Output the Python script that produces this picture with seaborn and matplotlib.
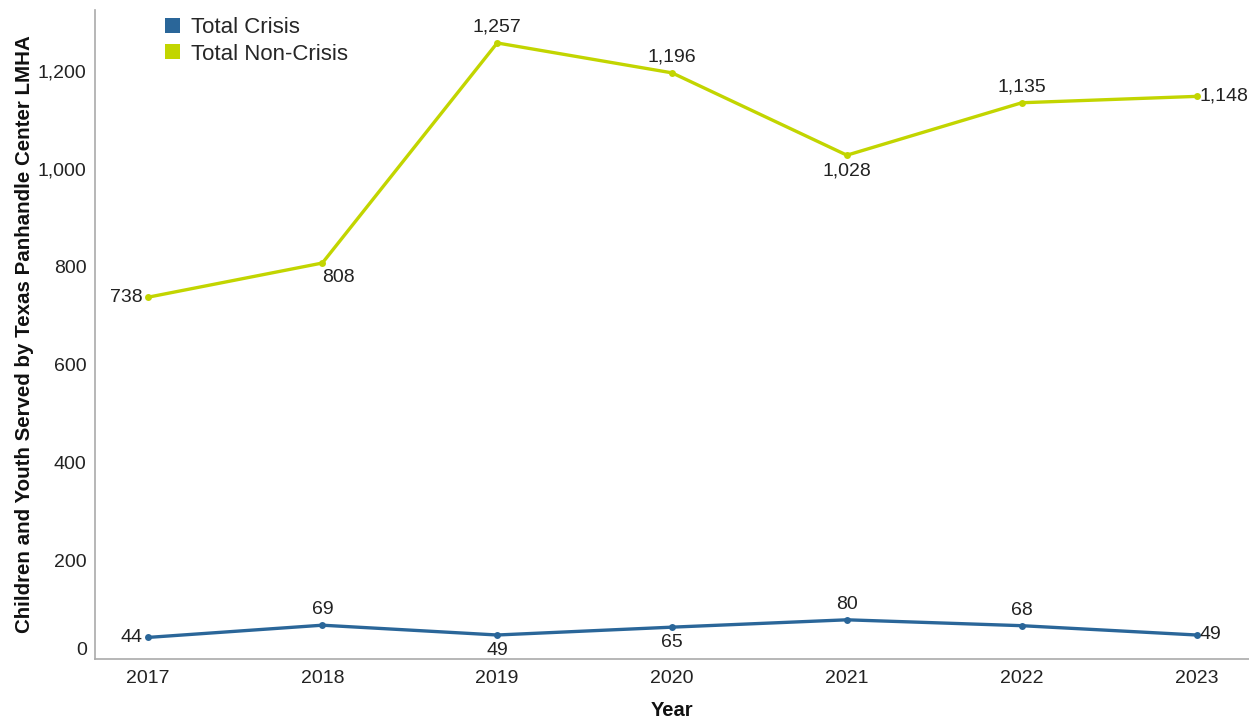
import matplotlib
matplotlib.use("Agg")
import matplotlib.pyplot as plt
from matplotlib.patches import Patch
from matplotlib.transforms import ScaledTranslation
import seaborn as sns
import pandas as pd

years = [2017, 2018, 2019, 2020, 2021, 2022, 2023]
total_crisis = [44, 69, 49, 65, 80, 68, 49]
total_non_crisis = [738, 808, 1257, 1196, 1028, 1135, 1148]
series_names = ["Total Crisis", "Total Non-Crisis"]
y_ticks = [0, 200, 400, 600, 800, 1000, 1200]

# where each value label sits relative to its point
crisis_pos = ["left", "above", "below", "below", "above", "above", "right"]
non_crisis_pos = ["left", "below-right", "above", "above", "below", "above", "right"]

colors = {"Total Crisis": "#2A6699", "Total Non-Crisis": "#C2D500"}

df = pd.DataFrame({
    "Year": years * 2,
    "Value": total_crisis + total_non_crisis,
    "Series": [series_names[0]] * len(years) + [series_names[1]] * len(years),
})

sns.set_theme(style="white")
plt.rcParams["font.family"] = ["Liberation Sans", "DejaVu Sans"]

fig = plt.figure(figsize=(12.49, 7.23), dpi=100)
ax = fig.add_axes([0.0761, 0.0885, 0.9239, 0.8975])

sns.lineplot(data=df, x="Year", y="Value", hue="Series", palette=colors,
             marker="o", markersize=5, markeredgewidth=0, linewidth=2.4,
             ax=ax, legend=False)

ax.set_xlim(2016.7, 2023.3)
ax.set_ylim(0, 1324)
ax.set_xticks(years)
ax.set_xticklabels([str(y) for y in years])
ax.set_yticks(y_ticks)
ax.set_yticklabels([f"{v:,}" for v in y_ticks])
ax.tick_params(axis="both", labelsize=14, colors="#222222", length=0)
ax.tick_params(axis="y", pad=6)
ax.tick_params(axis="x", pad=8)

for side in ["top", "right"]:
    ax.spines[side].set_visible(False)
for side in ["left", "bottom"]:
    ax.spines[side].set_color("#aaaaaa")
    ax.spines[side].set_linewidth(1.2)

ax.set_xlabel("Year", fontsize=14.5, fontweight="bold", labelpad=10, color="#111111")
ax.set_ylabel("Children and Youth Served by Texas Panhandle Center LMHA",
              fontsize=14.8, fontweight="bold", color="#111111")
ax.yaxis.set_label_coords(-0.053, 0.5)

# lift the zero label off the baseline
zero_lab = ax.get_yticklabels()[0]
zero_lab.set_transform(zero_lab.get_transform() +
                       ScaledTranslation(0, 11 / 100, fig.dpi_scale_trans))

offsets = {
    "left": ((-5, 0), "right", "center"),
    "right": ((3, 0), "left", "center"),
    "above": ((0, 7), "center", "bottom"),
    "below": ((0, -7), "center", "top"),
    "below-right": ((0, -6), "left", "top"),
}

for vals, positions in [(total_crisis, crisis_pos), (total_non_crisis, non_crisis_pos)]:
    for x, v, p in zip(years, vals, positions):
        (dx, dy), ha, va = offsets[p]
        ax.annotate(f"{v:,}", (x, v), xytext=(dx * 0.72, dy * 0.72),
                    textcoords="offset points", ha=ha, va=va,
                    fontsize=14, color="#222222")

handles = [Patch(facecolor=colors[n], edgecolor="none", label=n) for n in series_names]
ax.legend(handles=handles, loc="upper left", bbox_to_anchor=(0.053, 1.003),
          frameon=False, fontsize=16, handlelength=0.65, handleheight=0.65,
          handletextpad=0.5, labelspacing=0.25, borderaxespad=0)

fig.savefig("out.png", dpi=100)
